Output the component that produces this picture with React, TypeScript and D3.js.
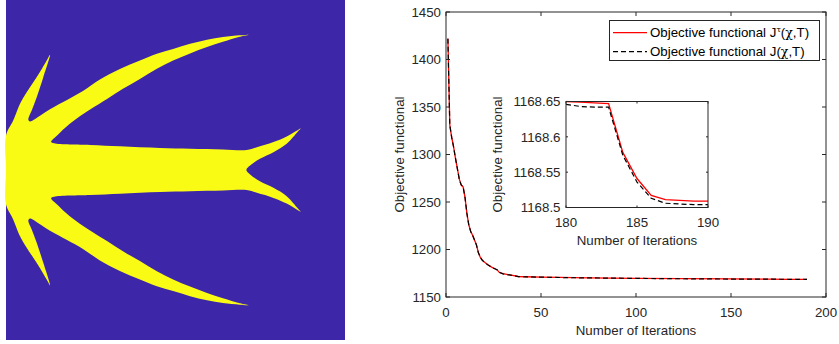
import React from 'react';
import * as d3 from 'd3';

const W = 839;
const H = 344;

// Optimisation history of the two objective functionals
const iterations = [1, 2, 3, 4, 5, 6, 7, 8, 9, 10, 11, 12, 13, 14, 15, 16, 17, 18, 19, 20, 22, 24, 26, 27, 28, 30, 32, 35, 38, 42, 50, 60, 75, 100, 125, 150, 170, 180, 181, 182, 183, 184, 185, 186, 187, 188, 189, 190];
const jTauValues = [1422, 1331, 1318, 1308, 1296, 1285, 1274, 1268, 1266, 1255, 1238, 1226, 1219, 1215, 1210, 1205, 1197, 1192, 1189, 1187, 1184, 1181.5, 1179.5, 1178.5, 1176, 1174.5, 1173.8, 1172.8, 1171.6, 1171.3, 1171, 1170.6, 1170.2, 1169.7, 1169.3, 1169, 1168.8, 1168.65, 1168.649, 1168.648, 1168.647, 1168.578, 1168.541, 1168.517, 1168.511, 1168.51, 1168.509, 1168.509];
const jValues = [1421.9, 1330.9, 1317.9, 1307.9, 1295.9, 1284.9, 1273.9, 1267.9, 1265.9, 1254.9, 1237.9, 1225.9, 1218.9, 1214.9, 1209.9, 1204.9, 1196.9, 1191.9, 1188.9, 1186.9, 1183.9, 1181.4, 1179.4, 1178.4, 1175.9, 1174.4, 1173.7, 1172.7, 1171.5, 1171.2, 1170.9, 1170.5, 1170.1, 1169.6, 1169.2, 1168.9, 1168.75, 1168.646, 1168.643, 1168.642, 1168.642, 1168.574, 1168.536, 1168.513, 1168.506, 1168.505, 1168.504, 1168.504];

const xTicksMain = [0, 50, 100, 150, 200];
const yTicksMain = [1150, 1200, 1250, 1300, 1350, 1400, 1450];
const xTicksInset = [180, 185, 190];
const yTicksInset = [1168.5, 1168.55, 1168.6, 1168.65];
const yTickLabelsInset = ['1168.5', '1168.55', '1168.6', '1168.65'];

const legendLabels = ['Objective functional J', 'Objective functional J'];

// Upper half of the optimised material layout, traced counter-clockwise.
// Domain units: x = 0..100 from the left wall, y = distance above the symmetry axis (-50..50).
const layoutX = [0, 0, 2.15, 4.13, 6.1, 8.05, 10.0, 12.0, 13.0, 11.0, 9.06, 7.58, 6.58, 7.08, 9.44, 12.98, 18.0, 22.7, 27.7, 33.6, 39.5, 44.5, 49.3, 54.3, 59.3, 64.0, 69.0, 71.7, 69.0, 64.0, 59.3, 54.3, 49.3, 44.5, 39.5, 34.5, 29.8, 24.8, 18.9, 15.0, 13.3, 14.2, 24.8, 33.6, 45.4, 54.3, 64.0, 71.0, 74.0, 78.9, 82.8, 85.3, 86.9, 86.1, 82.8, 78.9, 74.9, 72.0, 70.9];
const layoutY = [0, 10.1, 14.6, 19.5, 22.9, 25.8, 28.8, 32.2, 33.9, 27.3, 21.4, 17.5, 14.85, 14.3, 15.6, 17.9, 20.6, 23.2, 26.6, 29.7, 32.2, 34.2, 35.6, 37.1, 38.3, 39.1, 39.6, 39.8, 39.2, 37.7, 36.2, 34.3, 32.2, 29.8, 26.8, 23.9, 20.9, 17.8, 13.7, 10.1, 8.3, 7.85, 7.35, 6.97, 6.47, 6.24, 6.03, 5.88, 6.7, 8.2, 9.85, 11.3, 12.2, 11.3, 7.7, 5.24, 3.3, 1.3, 0];

const AXIS = '#262626';
const FONT = '"Liberation Sans", Arial, Helvetica, sans-serif';
const FS = 13.3;

type Pt = { it: number; v: number };

function LayoutPanel() {
  const sx = d3.scaleLinear().domain([0, 100]).range([6, 345]);
  const sy = d3.scaleLinear().domain([50, -50]).range([0, 340]);
  const upper: [number, number][] = layoutX.map((x, i) => [x, layoutY[i]]);
  const lower: [number, number][] = upper.slice(1, -1).reverse().map(([x, y]) => [x, -y]);
  const outline = upper.concat(lower);
  const path = d3
    .line<[number, number]>()
    .x((d) => sx(d[0]))
    .y((d) => sy(d[1]))
    .curve(d3.curveCatmullRomClosed.alpha(0.5))(outline);
  return (
    <g>
      <rect x={sx(0)} y={sy(50)} width={sx(100) - sx(0)} height={sy(-50) - sy(50)} fill="#3E26A8" />
      <path d={path || ''} fill="#F9FB15" />
    </g>
  );
}

function Series({ data, x, y }: { data: Pt[][]; x: d3.ScaleLinear<number, number>; y: d3.ScaleLinear<number, number> }) {
  const line = d3
    .line<Pt>()
    .x((d) => x(d.it))
    .y((d) => y(d.v));
  return (
    <g>
      <path d={line(data[0]) || ''} fill="none" stroke="#FF0000" strokeWidth={1.3} />
      <path d={line(data[1]) || ''} fill="none" stroke="#000000" strokeWidth={1.2} strokeDasharray="5,3" />
    </g>
  );
}

export default function App() {
  const tauSeries: Pt[] = iterations.map((it, i) => ({ it, v: jTauValues[i] }));
  const jSeries: Pt[] = iterations.map((it, i) => ({ it, v: jValues[i] }));

  // main axes
  const x = d3.scaleLinear().domain([0, 200]).range([446, 826]);
  const y = d3.scaleLinear().domain([1150, 1450]).range([297, 12]);
  const tl = 4;

  // inset axes
  const xi = d3.scaleLinear().domain([180, 190]).range([566, 708]);
  const yi = d3.scaleLinear().domain([1168.5, 1168.65]).range([207.5, 101.5]);
  const tli = 2;
  const insetTau = tauSeries.filter((d) => d.it >= 180);
  const insetJ = jSeries.filter((d) => d.it >= 180);

  const legX = 609.5;
  const legY = 20.5;
  const legW = 210;
  const legH = 40;

  return (
    <svg
      width={W}
      height={H}
      viewBox={`0 0 ${W} ${H}`}
      style={{ position: 'absolute', left: 0, top: 0, background: '#ffffff' }}
      fontFamily={FONT}
    >
      <LayoutPanel />

      {/* main axes */}
      <rect x={x(0)} y={y(1450)} width={x(200) - x(0)} height={y(1150) - y(1450)} fill="#ffffff" />
      <Series data={[tauSeries, jSeries]} x={x} y={y} />
      <rect x={x(0)} y={y(1450)} width={x(200) - x(0)} height={y(1150) - y(1450)} fill="none" stroke={AXIS} strokeWidth={1} />
      {xTicksMain.map((t) => (
        <g key={`xm${t}`}>
          <line x1={x(t)} x2={x(t)} y1={y(1150)} y2={y(1150) - tl} stroke={AXIS} />
          <line x1={x(t)} x2={x(t)} y1={y(1450)} y2={y(1450) + tl} stroke={AXIS} />
          <text x={x(t)} y={y(1150) + 19.5} textAnchor="middle" fontSize={FS} fill={AXIS}>
            {t}
          </text>
        </g>
      ))}
      {yTicksMain.map((t) => (
        <g key={`ym${t}`}>
          <line x1={x(0)} x2={x(0) + tl} y1={y(t)} y2={y(t)} stroke={AXIS} />
          <line x1={x(200)} x2={x(200) - tl} y1={y(t)} y2={y(t)} stroke={AXIS} />
          <text x={x(0) - 5} y={y(t) + 4.7} textAnchor="end" fontSize={FS} fill={AXIS}>
            {t}
          </text>
        </g>
      ))}
      <text x={(x(0) + x(200)) / 2} y={334.5} textAnchor="middle" fontSize={FS} fill={AXIS}>
        Number of Iterations
      </text>
      <text
        transform={`translate(${404},${(y(1150) + y(1450)) / 2}) rotate(-90)`}
        textAnchor="middle"
        fontSize={FS}
        fill={AXIS}
      >
        Objective functional
      </text>

      {/* inset axes */}
      <defs>
        <clipPath id="insetClip">
          <rect x={xi(180)} y={yi(1168.65) - 1} width={xi(190) - xi(180)} height={yi(1168.5) - yi(1168.65) + 1} />
        </clipPath>
      </defs>
      <rect x={xi(180)} y={yi(1168.65)} width={xi(190) - xi(180)} height={yi(1168.5) - yi(1168.65)} fill="#ffffff" />
      <g clipPath="url(#insetClip)">
        <Series data={[insetTau, insetJ]} x={xi} y={yi} />
      </g>
      <rect x={xi(180)} y={yi(1168.65)} width={xi(190) - xi(180)} height={yi(1168.5) - yi(1168.65)} fill="none" stroke={AXIS} strokeWidth={1} />
      {xTicksInset.map((t) => (
        <g key={`xi${t}`}>
          <line x1={xi(t)} x2={xi(t)} y1={yi(1168.5)} y2={yi(1168.5) - tli} stroke={AXIS} />
          <line x1={xi(t)} x2={xi(t)} y1={yi(1168.65)} y2={yi(1168.65) + tli} stroke={AXIS} />
          <text x={xi(t)} y={yi(1168.5) + 19.5} textAnchor="middle" fontSize={FS} fill={AXIS}>
            {t}
          </text>
        </g>
      ))}
      {yTicksInset.map((t, i) => (
        <g key={`yi${t}`}>
          <line x1={xi(180)} x2={xi(180) + tli} y1={yi(t)} y2={yi(t)} stroke={AXIS} />
          <line x1={xi(190)} x2={xi(190) - tli} y1={yi(t)} y2={yi(t)} stroke={AXIS} />
          <text x={xi(180) - 5.5} y={yi(t) + 4.7} textAnchor="end" fontSize={FS} fill={AXIS}>
            {yTickLabelsInset[i]}
          </text>
        </g>
      ))}
      <text x={(xi(180) + xi(190)) / 2} y={245.3} textAnchor="middle" fontSize={FS} fill={AXIS}>
        Number of Iterations
      </text>
      <text
        transform={`translate(${502},${(yi(1168.5) + yi(1168.65)) / 2}) rotate(-90)`}
        textAnchor="middle"
        fontSize={FS}
        fill={AXIS}
      >
        Objective functional
      </text>

      {/* legend */}
      <rect x={legX} y={legY} width={legW} height={legH} fill="#ffffff" stroke={AXIS} strokeWidth={1} />
      <line x1={613} x2={647} y1={32.7} y2={32.7} stroke="#FF0000" strokeWidth={1.3} />
      <line x1={613} x2={647} y1={51.7} y2={51.7} stroke="#000000" strokeWidth={1.2} strokeDasharray="5,3" />
      <text x={650} y={37.4} fontSize={FS} fill="#000000">
        {legendLabels[0]}
        <tspan fontFamily='"DejaVu Serif", serif' fontSize={8} dy={-5.5}>τ</tspan>
        <tspan dy={5.5}>(</tspan>
        <tspan fontFamily='"DejaVu Serif", serif' fontSize={12.5}>χ</tspan>
        <tspan>,T)</tspan>
      </text>
      <text x={650} y={56.4} fontSize={FS} fill="#000000">
        {legendLabels[1]}
        <tspan>(</tspan>
        <tspan fontFamily='"DejaVu Serif", serif' fontSize={12.5}>χ</tspan>
        <tspan>,T)</tspan>
      </text>
    </svg>
  );
}
